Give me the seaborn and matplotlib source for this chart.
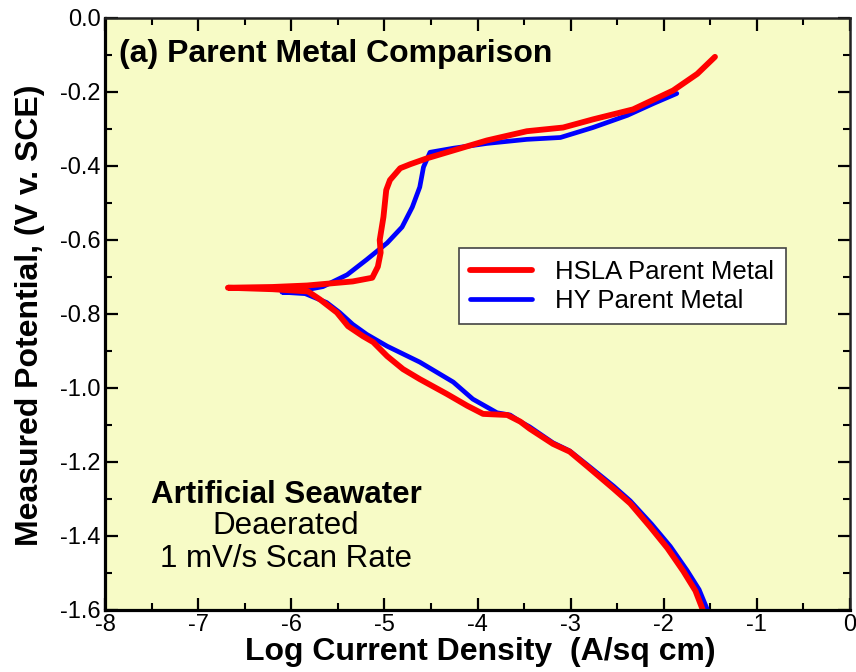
import matplotlib
matplotlib.use("Agg")
import matplotlib.pyplot as plt
from matplotlib.ticker import FixedLocator, MultipleLocator
import pandas as pd
import seaborn as sns

# Polarization scans: log current density (A/sq cm) vs potential (V v. SCE)
hsla_logi = [-1.58, -1.66, -1.79, -1.96, -2.15, -2.36, -2.54, -2.82, -3.01, -3.19,
             -3.44, -3.54, -3.68, -3.94, -4.11, -4.33, -4.62, -4.80, -4.97, -5.12,
             -5.23, -5.39, -5.51, -5.69, -5.82, -6.20, -6.68, -6.20, -5.83, -5.34,
             -5.13, -5.07, -5.04, -5.05, -5.01, -4.98, -4.94, -4.83, -4.72, -4.54,
             -4.26, -3.90, -3.47, -3.08, -2.76, -2.33, -1.90, -1.64, -1.45]
hsla_e = [-1.600, -1.548, -1.495, -1.433, -1.374, -1.312, -1.272, -1.212, -1.172, -1.151,
          -1.110, -1.091, -1.073, -1.070, -1.048, -1.016, -0.976, -0.949, -0.914, -0.876,
          -0.860, -0.833, -0.796, -0.761, -0.739, -0.733, -0.729, -0.727, -0.723, -0.712,
          -0.702, -0.672, -0.634, -0.600, -0.538, -0.465, -0.438, -0.406, -0.395, -0.379,
          -0.358, -0.331, -0.306, -0.296, -0.274, -0.247, -0.196, -0.151, -0.105]

hy_logi = [-1.53, -1.62, -1.75, -1.93, -2.13, -2.36, -2.54, -2.82, -3.01, -3.19,
           -3.44, -3.54, -3.65, -3.79, -4.05, -4.26, -4.62, -4.97, -5.19, -5.34,
           -5.48, -5.62, -5.85, -6.10, -5.91, -5.66, -5.40, -5.19, -4.97, -4.81,
           -4.70, -4.62, -4.58, -4.51, -4.26, -3.90, -3.47, -3.11, -2.76, -2.39,
           -2.11, -1.86]
hy_e = [-1.600, -1.545, -1.493, -1.428, -1.368, -1.305, -1.265, -1.208, -1.170, -1.148,
        -1.105, -1.091, -1.073, -1.067, -1.030, -0.984, -0.930, -0.887, -0.855, -0.828,
        -0.796, -0.769, -0.745, -0.741, -0.738, -0.726, -0.694, -0.653, -0.608, -0.565,
        -0.511, -0.457, -0.403, -0.363, -0.352, -0.339, -0.328, -0.323, -0.296, -0.263,
        -0.231, -0.204]

series_names = ["HSLA Parent Metal", "HY Parent Metal"]
x_ticks = [-8, -7, -6, -5, -4, -3, -2, -1, 0]
x_labels = ["-8", "-7", "-6", "-5", "-4", "-3", "-2", "-1", "0"]
y_ticks = [0.0, -0.2, -0.4, -0.6, -0.8, -1.0, -1.2, -1.4, -1.6]
y_labels = ["0.0", "-0.2", "-0.4", "-0.6", "-0.8", "-1.0", "-1.2", "-1.4", "-1.6"]

sns.set_theme(style="ticks")
plt.rcParams["font.family"] = ["Liberation Sans", "DejaVu Sans"]
plt.rcParams["axes.unicode_minus"] = False
plt.rcParams["text.color"] = "black"
plt.rcParams["axes.labelcolor"] = "black"
plt.rcParams["xtick.color"] = "black"
plt.rcParams["ytick.color"] = "black"

W, H = 856, 672
fig = plt.figure(figsize=(W / 100, H / 100), dpi=100)
fig.patch.set_facecolor("white")
ax = fig.add_axes([105 / W, 1 - 610 / H, 745 / W, 592 / H])
ax.set_facecolor("#F7FBC6")

df_hy = pd.DataFrame({"logi": hy_logi, "E": hy_e})
df_hsla = pd.DataFrame({"logi": hsla_logi, "E": hsla_e})

sns.lineplot(data=df_hy, x="logi", y="E", sort=False, estimator=None,
             color="#0000FF", linewidth=3.4, ax=ax, label=series_names[1])
sns.lineplot(data=df_hsla, x="logi", y="E", sort=False, estimator=None,
             color="#FF0000", linewidth=4.2, ax=ax, label=series_names[0])

ax.set_xlim(-8, 0)
ax.set_ylim(-1.6, 0)
ax.xaxis.set_major_locator(FixedLocator(x_ticks))
ax.set_xticklabels(x_labels)
ax.xaxis.set_minor_locator(MultipleLocator(0.5))
ax.yaxis.set_major_locator(FixedLocator(y_ticks))
ax.set_yticklabels(y_labels)
ax.yaxis.set_minor_locator(MultipleLocator(0.1))
ax.set_xlabel("")
ax.set_ylabel("")

ax.tick_params(which="both", direction="in", top=True, right=True,
               labeltop=False, labelright=False, colors="black",
               labelcolor="black")
ax.tick_params(which="major", length=9, width=1.6, labelsize=17, pad=3)
ax.tick_params(which="minor", length=5, width=1.5)

for side in ("left", "bottom"):
    ax.spines[side].set_linewidth(2.3)
    ax.spines[side].set_color("black")
for side in ("top", "right"):
    ax.spines[side].set_linewidth(1.8)
    ax.spines[side].set_color("#222222")

# panel title and test conditions
ax.text(0.0188, 0.9257, "(a) Parent Metal Comparison", transform=ax.transAxes,
        fontsize=23, fontweight="bold", va="baseline", ha="left", color="black")
ax.text(0.243, 0.1807, "Artificial Seawater", transform=ax.transAxes,
        fontsize=22.5, fontweight="bold", va="baseline", ha="center", color="black")
ax.text(0.243, 0.1284, "Deaerated", transform=ax.transAxes,
        fontsize=22.5, va="baseline", ha="center", color="black")
ax.text(0.243, 0.0726, "1 mV/s Scan Rate", transform=ax.transAxes,
        fontsize=22.5, va="baseline", ha="center", color="black")

# axis titles
fig.text(480 / W, 1 - 652 / H, "Log Current Density  (A/sq cm)",
         fontsize=23, fontweight="bold", ha="center", va="center", color="black")
fig.text(30 / W, 1 - 315 / H, "Measured Potential, (V v. SCE)",
         fontsize=23, fontweight="bold", ha="center", va="center", rotation=90,
         color="black")

handles, labels = ax.get_legend_handles_labels()
order = [labels.index(n) for n in series_names]
leg = ax.legend([handles[i] for i in order], [labels[i] for i in order],
                loc="upper left", bbox_to_anchor=(0.475, 0.6115),
                frameon=True, fancybox=False, framealpha=1, facecolor="white",
                edgecolor="#444444", fontsize=18.5, handlelength=2.4,
                handletextpad=0.9, labelspacing=0.2, borderpad=0.45,
                borderaxespad=0, labelcolor="black")
leg.get_frame().set_linewidth(1.2)

fig.savefig("out.png", dpi=100)
